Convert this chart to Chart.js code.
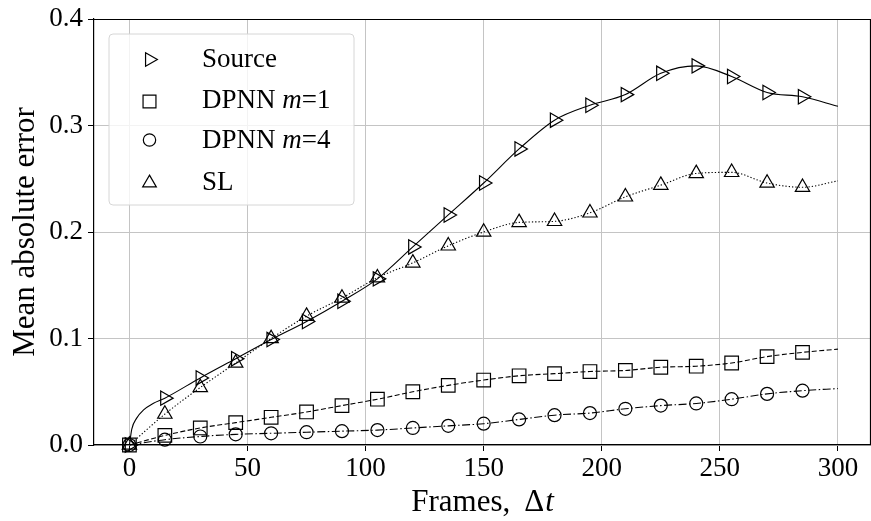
<!DOCTYPE html>
<html>
<head>
<meta charset="utf-8">
<script src="https://cdn.jsdelivr.net/npm/chart.js@4/dist/chart.umd.min.js"></script>
<style>
  html, body { margin: 0; padding: 0; background: #fff; }
  #wrap { width: 871px; height: 521px; position: relative; }
</style>
</head>
<body>
<div id="wrap"><canvas id="chart"></canvas></div>
<script>
// frames where markers are drawn
const frames = [0, 15, 30, 45, 60, 75, 90, 105, 120, 135, 150, 165, 180, 195, 210, 225, 240, 255, 270, 285];

// mean absolute error at the marker frames
const sourceMae = [0, 0.044, 0.063, 0.081, 0.099, 0.116, 0.135, 0.156, 0.186, 0.216, 0.246, 0.278, 0.305, 0.319, 0.329, 0.349, 0.356, 0.346, 0.331, 0.327];
const dpnn1Mae  = [0, 0.009, 0.016, 0.021, 0.026, 0.031, 0.037, 0.043, 0.050, 0.056, 0.061, 0.065, 0.067, 0.069, 0.070, 0.073, 0.074, 0.077, 0.083, 0.087];
const dpnn4Mae  = [0, 0.005, 0.008, 0.010, 0.011, 0.012, 0.013, 0.014, 0.016, 0.018, 0.020, 0.024, 0.028, 0.030, 0.034, 0.037, 0.039, 0.043, 0.048, 0.051];
const slMae     = [0, 0.029, 0.054, 0.077, 0.100, 0.121, 0.138, 0.157, 0.171, 0.187, 0.200, 0.209, 0.210, 0.218, 0.233, 0.244, 0.255, 0.256, 0.246, 0.242];

// curves continue past the last marker to frame 300
const lastFrame = 300;
const sourceLast = 0.318;
const dpnn1Last = 0.090;
const dpnn4Last = 0.053;
const slLast = 0.248;

// source curve rises steeply right after frame 0
const sourceEarlyFrames = [1, 3, 6, 10];
const sourceEarlyMae = [0.015, 0.025, 0.033, 0.039];

const xTicks = [0, 50, 100, 150, 200, 250, 300];
const yTicks = [0, 0.1, 0.2, 0.3, 0.4];

const labels = ['Source', 'DPNN m=1', 'DPNN m=4', 'SL'];

const SERIF = "'Liberation Serif', 'Times New Roman', serif";

function buildPoints(values, last, extraX, extraY) {
    const pts = frames.map((f, i) => ({ x: f, y: values[i] }));
    if (extraX) extraX.forEach((f, i) => pts.push({ x: f, y: extraY[i] }));
    pts.push({ x: lastFrame, y: last });
    return pts.sort((a, b) => a.x - b.x);
}

function markerSize(r) {
    // only the sampled frames carry a marker
    return (ctx) => (ctx.raw && frames.includes(ctx.raw.x) ? r : 0);
}

const styles = [
    { shape: 'triangle', rot: 90, r: 8.3, dash: [] },
    { shape: 'rect', rot: 0, r: 9.6, dash: [5, 2.5] },
    { shape: 'circle', rot: 0, r: 6.5, dash: [8, 2.5, 1.5, 2.5] },
    { shape: 'triangle', rot: 0, r: 8.3, dash: [1.3, 2] }
];

const seriesData = [
    buildPoints(sourceMae, sourceLast, sourceEarlyFrames, sourceEarlyMae),
    buildPoints(dpnn1Mae, dpnn1Last),
    buildPoints(dpnn4Mae, dpnn4Last),
    buildPoints(slMae, slLast)
];

const datasets = seriesData.map((d, i) => ({
    label: labels[i],
    data: d,
    borderColor: '#000',
    borderWidth: 1.1,
    borderDash: styles[i].dash,
    backgroundColor: 'rgba(0,0,0,0)',
    pointStyle: styles[i].shape,
    pointRotation: styles[i].rot,
    pointRadius: markerSize(styles[i].r),
    pointBorderColor: '#000',
    pointBackgroundColor: 'rgba(0,0,0,0)',
    pointBorderWidth: 1.2,
    cubicInterpolationMode: 'monotone',
    fill: false,
    clip: false
}));

function drawMarker(ctx, st, x, y) {
    ctx.save();
    ctx.translate(x, y);
    ctx.rotate(st.rot * Math.PI / 180);
    ctx.beginPath();
    const r = st.r;
    if (st.shape === 'circle') {
        ctx.arc(0, 0, r, 0, Math.PI * 2);
    } else if (st.shape === 'rect') {
        const h = r * Math.SQRT1_2;
        ctx.rect(-h, -h, 2 * h, 2 * h);
    } else {
        for (let k = 0; k < 3; k++) {
            const a = k * 2 * Math.PI / 3;
            const px = Math.sin(a) * r, py = -Math.cos(a) * r;
            if (k === 0) ctx.moveTo(px, py); else ctx.lineTo(px, py);
        }
        ctx.closePath();
    }
    ctx.strokeStyle = '#000';
    ctx.lineWidth = 1.2;
    ctx.stroke();
    ctx.restore();
}

// draws text pieces, some in italic, one after another (gap = extra px before a piece)
function drawRuns(ctx, runs, x, y, size, align) {
    const fonts = runs.map(r => (r.it ? 'italic ' : '') + size + 'px ' + SERIF);
    let total = 0;
    runs.forEach((r, i) => { ctx.font = fonts[i]; total += ctx.measureText(r.t).width + (r.gap || 0); });
    let cx = align === 'center' ? x - total / 2 : x;
    ctx.textAlign = 'left';
    runs.forEach((r, i) => {
        ctx.font = fonts[i];
        cx += r.gap || 0;
        ctx.fillText(r.t, cx, y);
        cx += ctx.measureText(r.t).width;
    });
}

const decorPlugin = {
    id: 'decor',
    afterDraw(chart) {
        const ctx = chart.ctx;
        const a = chart.chartArea;
        ctx.save();
        ctx.fillStyle = '#000';
        ctx.textBaseline = 'alphabetic';

        // top and right spines
        ctx.strokeStyle = '#000';
        ctx.lineWidth = 1.2;
        ctx.beginPath();
        ctx.moveTo(a.left, a.top + 0.5);
        ctx.lineTo(a.right - 0.5, a.top + 0.5);
        ctx.lineTo(a.right - 0.5, a.bottom);
        ctx.stroke();

        // axis titles
        drawRuns(ctx, [
            { t: 'Frames,' },
            { t: '\u0394', gap: 14 },
            { t: 't', it: true, gap: 1 }
        ], (a.left + a.right) / 2, 511, 31, 'center');
        ctx.save();
        ctx.translate(33.5, (a.top + a.bottom) / 2);
        ctx.rotate(-Math.PI / 2);
        drawRuns(ctx, [{ t: 'Mean absolute error' }], 0, 0, 31, 'center');
        ctx.restore();

        // legend box
        const bx = 109, by = 34, bw = 245, bh = 171, rad = 4;
        ctx.beginPath();
        ctx.moveTo(bx + rad, by);
        ctx.arcTo(bx + bw, by, bx + bw, by + bh, rad);
        ctx.arcTo(bx + bw, by + bh, bx, by + bh, rad);
        ctx.arcTo(bx, by + bh, bx, by, rad);
        ctx.arcTo(bx, by, bx + bw, by, rad);
        ctx.closePath();
        ctx.fillStyle = 'rgba(255,255,255,0.8)';
        ctx.fill();
        ctx.strokeStyle = '#d6d6d6';
        ctx.lineWidth = 1;
        ctx.stroke();

        const markerY = [59.5, 101.5, 140, 183];
        const baseY = [66.5, 108.3, 148.3, 190];
        const texts = [
            [{ t: 'Source' }],
            [{ t: 'DPNN ' }, { t: 'm', it: true }, { t: '=1' }],
            [{ t: 'DPNN ' }, { t: 'm', it: true }, { t: '=4' }],
            [{ t: 'SL' }]
        ];
        ctx.fillStyle = '#000';
        for (let i = 0; i < 4; i++) {
            const st = Object.assign({}, styles[i], { r: styles[i].r * 0.95 });
            drawMarker(ctx, st, 149.5, markerY[i]);
            drawRuns(ctx, texts[i], 202, baseY[i], 27, 'left');
        }
        ctx.restore();
    }
};

new Chart(document.getElementById('chart'), {
    type: 'line',
    data: { datasets: datasets },
    options: {
        responsive: true,
        maintainAspectRatio: false,
        animation: false,
        devicePixelRatio: 1,
        layout: { autoPadding: false, padding: { top: 19, right: 0, left: 0, bottom: 0 } },
        plugins: {
            legend: { display: false },
            tooltip: { enabled: false }
        },
        scales: {
            x: {
                type: 'linear',
                min: -15,
                max: 314,
                afterBuildTicks: (scale) => { scale.ticks = xTicks.map(v => ({ value: v })); },
                afterFit: (scale) => {
                    scale.height = 76;
                    scale.paddingLeft = 0;
                    scale.paddingRight = 0;
                },
                ticks: {
                    color: '#000',
                    font: { family: SERIF, size: 27 },
                    padding: 2,
                    maxRotation: 0,
                    callback: (v) => String(v)
                },
                grid: { color: '#c4c4c4', lineWidth: 1, tickColor: '#000', tickLength: 6, tickWidth: 1 },
                border: { color: '#000', width: 1.2 }
            },
            y: {
                type: 'linear',
                min: 0,
                max: 0.4,
                afterBuildTicks: (scale) => { scale.ticks = yTicks.map(v => ({ value: v })); },
                afterFit: (scale) => {
                    scale.width = 94;
                    scale.paddingTop = 0;
                    scale.paddingBottom = 0;
                },
                ticks: {
                    color: '#000',
                    font: { family: SERIF, size: 27 },
                    padding: 5,
                    callback: (v) => Number(v).toFixed(1)
                },
                grid: { color: '#c4c4c4', lineWidth: 1, tickColor: '#000', tickLength: 6, tickWidth: 1 },
                border: { color: '#000', width: 1.2 }
            }
        }
    },
    plugins: [decorPlugin]
});
</script>
</body>
</html>
